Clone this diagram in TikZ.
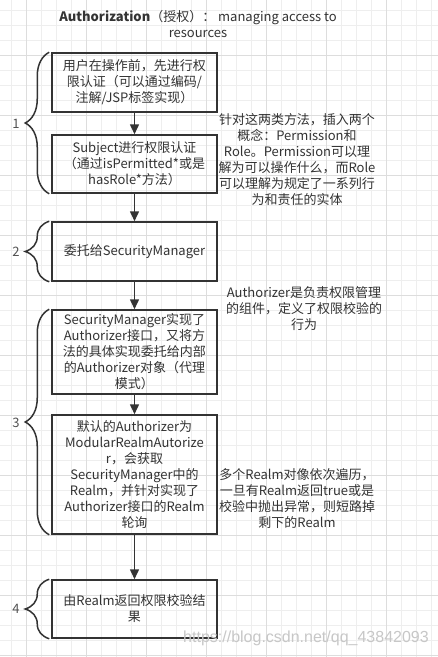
\documentclass[tikz,border=0pt]{standalone}
\usepackage{fontspec}
\setmainfont{Noto Sans CJK SC}
\newfontfamily\wmfont{Liberation Sans}
\usetikzlibrary{decorations.pathreplacing,arrows.meta,calc}
\definecolor{ink}{HTML}{333333}
\definecolor{gridminor}{HTML}{EEEEEE}
\definecolor{gridmajor}{HTML}{DDDDDD}
\begin{document}
\begin{tikzpicture}[x=1pt,y=-1pt,
  box/.style={draw=ink, line width=1.5pt, minimum width=165pt, text width=160pt, align=center, inner sep=0pt, font=\fontsize{13}{16}\selectfont, text=ink},
  note/.style={align=center, inner sep=0pt, font=\fontsize{13}{16}\selectfont, text=ink},
  flow/.style={draw=ink, line width=1.5pt, -{Triangle[width=9pt,length=10pt]}},
  curly/.style={draw=ink, line width=1.5pt, decorate, decoration={brace, amplitude=24pt}},
  num/.style={font=\fontsize{13}{16}\selectfont, text=ink!85, inner sep=0pt},
  minorline/.style={draw=gridminor, line width=0.6pt},
  majorline/.style={draw=gridmajor, line width=0.8pt}]
\fill[white] (0,0) rectangle (438,657);
\useasboundingbox (0,0) rectangle (438,657);
% grid
\foreach \x in {11.7,26.7,...,438} \draw[minorline] (\x,0) -- (\x,657);
\foreach \y in {10,25,...,657} \draw[minorline] (0,\y) -- (438,\y);
\foreach \x in {26.7,86.7,...,438} \draw[majorline] (\x,0) -- (\x,657);
\foreach \y in {55,115,...,657} \draw[majorline] (0,\y) -- (438,\y);
% title
\node[note] (title) at (198,24) {\textbf{Authorization}（授权）： managing access to\\resources};
% boxes
\node[box, minimum height=59pt] (b1) at (134.5,82.5) {用户在操作前，先进行权\\限认证（可以通过编码/\\注解/JSP标签实现）};
\node[box, minimum height=58pt] (b2) at (134.5,164) {Subject进行权限认证\\（通过isPermitted*或是\\hasRole*方法）};
\node[box, minimum height=59pt] (b3) at (134.5,251.5) {委托给SecurityManager};
\node[box, minimum height=84pt] (b4) at (134.5,352) {SecurityManager实现了\\Authorizer接口，又将方\\法的具体实现委托给内部\\的Authorizer对象（代理\\模式）};
\node[box, minimum height=119pt] (b5) at (134.5,474.5) {默认的Authorizer为\\ModularRealmAutorize\\r，会获取\\SecurityManager中的\\Realm，并针对实现了\\Authorizer接口的Realm\\轮询};
\node[box, minimum height=58pt] (b6) at (134.5,609) {由Realm返回权限校验结\\果};
% arrows
\draw[flow] (b1) -- (b2);
\draw[flow] (b2) -- (b3);
\draw[flow] (b3) -- (b4);
\draw[flow] (b4) -- (b5);
\draw[flow] (b5) -- (b6);
% braces
\draw[curly] ($(b2.south west)+(-2,0)$) -- ($(b1.north west)+(-2,0)$);
\draw[curly] ($(b3.south west)+(-2,0)$) -- ($(b3.north west)+(-2,0)$);
\draw[curly] ($(b5.south west)+(-2,0)$) -- ($(b4.north west)+(-2,0)$);
\draw[curly] ($(b6.south west)+(-2,0)$) -- ($(b6.north west)+(-2,0)$);
\node[num] (l1) at (16,124) {1};
\node[num] (l2) at (16,252) {2};
\node[num] (l3) at (16,423) {3};
\node[num] (l4) at (16,609) {4};
% notes
\node[note] (n1) at (297,160) {针对这两类方法，插入两个\\概念：Permission和\\Role。Permission可以理\\解为可以操作什么，而Role\\可以理解为规定了一系列行\\为和责任的实体};
\node[note] (n2) at (304,309) {Authorizer是负责权限管理\\的组件，定义了权限校验的\\行为};
\node[note] (n3) at (297,499) {多个Realm对像依次遍历，\\一旦有Realm返回true或是\\校验中抛出异常，则短路掉\\剩下的Realm};
% watermark
\node[inner sep=0pt, text=black!22, font=\wmfont\fontsize{16}{18}\selectfont] (wm) at (306,638) {https://blog.csdn.net/qq\_43842093};
\end{tikzpicture}
\end{document}
